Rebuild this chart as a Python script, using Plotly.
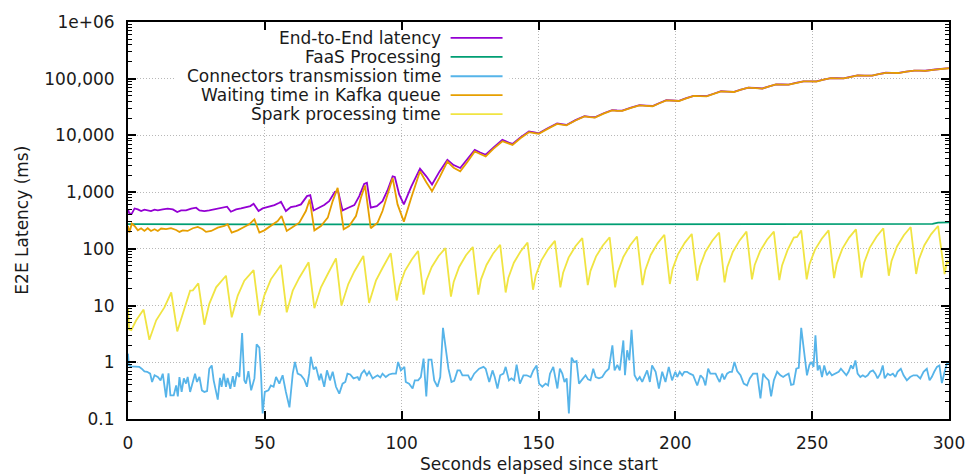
import plotly.graph_objects as go

# ---------------- data ----------------
e2e_x = [0, 0.5, 1.4, 2.4, 3.6, 4.8, 6, 7.2, 8.4, 9.7, 10.9, 12.7, 14.5, 16.4, 18, 19.4, 21.2, 23.1, 24.9, 26.1,
         27.9, 29.7, 31.6, 33.4, 35.2, 36.2, 37.6, 39.5, 41.3, 43.1, 44.7, 45.9, 47.7, 49.2, 51, 53.5, 55.3, 55.9,
         57.7, 59.5, 61.4, 63.2, 65.4, 66.6, 67.8, 69.9, 71.7, 73.5, 75.6, 76.8, 78.4, 80.5, 82.7, 84.5, 86.3, 87.3,
         88.7, 90.9, 93, 94.8, 96.7, 97.5, 99.1, 100.8, 103.5, 106.7, 109, 111.1, 113.8, 116.7, 119, 121.4, 124,
         126.7, 128.7, 130.7, 133.5, 136.8, 138.7, 140.5, 143.5, 146.5, 148.5, 150.1, 153.5, 156.8, 158.5, 160.2,
         163.5, 166.8, 168.7, 170.6, 173.8, 176.9, 178.7, 180.6, 183.8, 186.9, 189.3, 191.7, 194.2, 196.7, 199,
         201.3, 204, 206.7, 209, 211.4, 214, 216.7, 219, 221.4, 224, 226.7, 229.2, 231.8, 234.3, 236.8, 239.1,
         241.4, 244, 246.8, 249.2, 251.5, 254.2, 256.8, 259.2, 261.5, 263.9, 266.6, 269.2, 271.9, 274.3, 276.9,
         279.2, 281.6, 284.4, 287.3, 289.3, 291.3, 295, 299.2, 300]
e2e_y = [497, 417, 417, 516, 497, 464, 490, 476, 464, 490, 476, 497, 511, 497, 446, 476, 476, 511, 531, 476,
         464, 476, 497, 516, 531, 553, 452, 497, 516, 545, 568, 624, 464, 516, 545, 592, 650, 677,
         464, 545, 568, 608, 851, 885, 476, 531, 592, 695, 1014, 1030, 476, 531, 592, 851, 1400, 1460,
         531, 568, 695, 1070, 1900, 1850, 910, 608, 1250, 2590, 1900, 1360, 2300, 3720, 3000, 2670, 3800,
         5570, 5000, 4560, 6100, 8340, 7600, 7100, 9300, 11700, 11300, 10900, 13500, 16300, 15800, 15300,
         18600, 21900, 21300, 20900, 24600, 27900, 27500, 27300, 30900, 34300, 33600, 33000, 37300, 41900, 41300,
         40800, 45300, 50000, 49600, 49300, 54300, 60100, 59300, 58600, 64300, 69700, 68800, 67300, 73300, 79600, 79100,
         78800, 84300, 90000, 89800, 89600, 96300, 102300, 101800, 101300, 107300, 114300, 113800, 113800, 120300, 127300,
         126800, 126300, 133300, 139300, 138800, 138300, 145300, 152300, 153300]

faas_x = [0, 25, 50, 75, 100, 125, 150, 175, 200, 225, 250, 275, 292, 294, 296, 298, 300]
faas_y = [272, 270, 271, 270, 271, 270, 271, 271, 272, 271, 272, 272, 273, 276, 290, 296, 293]

conn_x = [0, 0.3, 1.2, 2, 3, 4.1, 5, 6, 7, 8.1, 8.8, 9.7, 10.9, 11.9, 12.7, 13.9, 14.8, 15.5, 16.7, 17.6, 18.2,
          18.8, 19.6, 20.4, 21.2, 21.8, 22.7, 23.7, 24.5, 25.2, 26.1, 27.0, 27.9, 28.9, 29.7, 30.6, 31.3, 32.8,
          33.6, 34.2, 35.0, 35.8, 36.4, 37.4, 38.3, 38.9, 39.8, 40.7, 41.7, 42.5, 43.1, 44.0, 45.0, 46.2, 47.0,
          48.0, 48.6, 49.2, 50.0, 51.3, 52.2, 53.2, 54.1, 55.3, 56.5, 57.7, 59.0, 60.2, 61.0, 62.0, 63.2, 64.4,
          65.4, 66.2, 66.8, 67.8, 68.7, 69.9, 70.5, 71.7, 72.7, 73.8, 74.8, 76.0, 77.2, 78.4, 79.4, 80.2, 81.2,
          82.4, 83.9, 84.5, 85.3, 86.3, 87.3, 88.1, 89.4, 90.2, 91.2, 92.2, 93.0, 94.2, 95.4, 96.6, 97.9, 98.7,
          99.7, 101.0, 101.5, 102.7, 104.0, 104.8, 106.0, 107.0, 108.0, 109.0, 109.8, 110.9, 111.9, 113.1, 114.1,
          115.1, 116.1, 117.1, 118.2, 119.2, 120.4, 121.3, 122.2, 123.4, 124.3, 125.2, 126.5, 128.3, 129.9, 130.7,
          132.0, 133.2, 134.0, 135.0, 136.0, 137.2, 138.0, 139.2, 140.1, 141.1, 142.0, 143.2, 144.5, 145.7, 147.1,
          148.1, 149.3, 150.2, 151.4, 152.6, 153.5, 154.2, 155.4, 156.9, 157.8, 158.7, 159.5, 160.3, 161.1, 162.1,
          163.0, 163.9, 164.8, 166.0, 167.2, 168.1, 169.0, 170.0, 170.9, 172.1, 173.3, 174.5, 175.7, 177.0, 177.8,
          178.8, 179.7, 181.0, 181.6, 182.4, 183.2, 184.0, 185.1, 186.1, 187.0, 187.9, 188.7, 189.7, 190.7, 191.5,
          192.8, 194.0, 195.2, 196.4, 197.6, 198.8, 200.0, 200.7, 201.6, 202.5, 203.3, 204.3, 205.3, 206.5, 208.0,
          209.2, 210.2, 211.0, 212.0, 212.8, 213.8, 214.7, 215.5, 216.2, 217.1, 217.9, 218.9, 219.9, 220.7, 221.6,
          222.6, 223.8, 225.0, 226.2, 227.2, 228.4, 229.9, 231.1, 232.1, 232.9, 234.1, 235.0, 236.0, 237.2, 238.4,
          239.4, 240.3, 241.4, 242.3, 243.2, 244.2, 245.1, 246.0, 247.1, 248.1, 249.0, 249.7, 250.5, 251.2, 252.0,
          252.7, 253.6, 254.4, 255.4, 256.3, 257.2, 258.5, 259.7, 260.5, 261.5, 262.5, 263.3, 264.2, 264.9, 265.8,
          266.6, 267.6, 268.5, 269.4, 270.3, 271.2, 272.2, 273.1, 273.9, 274.9, 275.8, 276.5, 277.6, 278.5, 279.5,
          280.4, 281.2, 282.4, 283.4, 284.6, 285.8, 287.0, 288.3, 289.5, 290.7, 291.9, 292.9, 293.7, 294.6, 295.6,
          296.5, 297.4, 298.4, 299.2, 300]
conn_y = [1.42, 0.88, 0.85, 0.85, 0.85, 0.83, 0.77, 0.69, 0.68, 0.63, 0.45, 0.59, 0.55, 0.48, 0.63, 0.24, 0.64, 0.26, 0.26, 0.39, 0.25,
          0.55, 0.30, 0.52, 0.42, 0.55, 0.30, 0.48, 0.63, 0.45, 0.55, 0.32, 0.30, 0.31, 0.77, 0.88, 0.48, 0.22,
          0.53, 0.37, 0.63, 0.37, 0.53, 0.34, 0.57, 0.37, 0.66, 0.55, 3.27, 0.48, 0.42, 0.70, 0.32, 0.52, 2.07,
          1.81, 0.63, 0.125, 0.30, 0.32, 0.39, 0.37, 0.55, 0.42, 0.59, 0.30, 0.16, 0.63, 1.01, 0.63, 0.59, 0.50,
          0.37, 0.63, 1.25, 0.75, 0.83, 0.48, 0.63, 0.37, 0.72, 0.48, 0.68, 0.37, 0.28, 0.42, 0.45, 0.63, 0.61,
          0.52, 0.55, 0.48, 0.63, 0.72, 0.59, 0.68, 0.52, 0.55, 0.59, 0.54, 0.63, 0.55, 0.61, 0.63, 0.63, 1.01,
          0.72, 0.83, 0.45, 0.42, 0.345, 0.48, 0.48, 0.55, 1.16, 0.25, 1.11, 1.11, 0.48, 0.37, 0.55,
          4.06, 1.86, 0.77, 0.45, 0.47, 0.72, 0.72, 0.59, 0.59, 0.59, 0.48, 0.63, 0.77, 0.83, 0.77,
          0.45, 0.72, 0.55, 0.345, 0.59, 0.63, 0.83, 0.48, 0.52, 0.48, 0.91, 0.42, 0.59, 0.59, 0.55,
          0.72, 0.88, 0.42, 0.37, 0.42, 0.39, 0.63, 0.83, 0.345, 0.77, 0.63, 0.45, 0.52, 0.125, 1.21,
          1.01, 1.05, 0.42, 0.50, 0.59, 0.50, 0.48, 0.77, 0.55, 0.52, 0.55, 0.68, 0.77, 1.99, 0.72,
          0.90, 0.72, 2.43, 0.59, 1.63, 1.08, 3.74, 0.59, 0.48, 0.55, 0.45, 0.55, 0.72, 0.45, 0.88,
          0.68, 0.345, 0.68, 0.45, 0.83, 0.48, 0.68, 0.55, 0.68, 0.59, 0.68, 0.68, 0.63, 0.59, 0.39,
          0.59, 0.52, 0.39, 0.77, 0.63, 0.63, 0.63, 0.52, 0.45, 0.63, 0.50, 0.63, 0.68, 0.68, 1.01,
          0.70, 0.59, 0.42, 0.39, 0.52, 0.63, 0.63, 0.23, 0.63, 0.55, 0.48, 0.25, 0.48, 0.68, 0.59,
          0.55, 0.59, 0.63, 0.40, 0.41, 0.77, 0.80, 4.06, 1.63, 0.59, 0.90, 1.01, 0.83, 2.98, 0.72,
          0.88, 0.55, 0.88, 0.59, 0.68, 0.59, 0.63, 0.68, 0.77, 0.68, 0.59, 0.68, 0.88, 0.77, 1.08,
          0.63, 0.55, 0.59, 0.55, 0.59, 0.68, 0.72, 0.63, 0.52, 0.63, 0.88, 0.52, 0.63, 0.59, 0.63,
          0.55, 0.68, 0.77, 0.59, 0.48, 0.55, 0.59, 0.59, 0.52, 0.68, 0.77, 0.48, 0.55, 0.68, 0.83,
          0.88, 0.43, 0.68, 0.95, 0.95]

kafka_x = [0, 0.5, 1.4, 2.4, 3.6, 4.8, 6, 7.2, 8.4, 9.7, 10.9, 12.1, 13.9, 15.7, 17.6, 18.8, 20, 21.8, 23.7, 25.5,
           27.3, 28.5, 30.4, 32.8, 35.2, 36.4, 37.9, 40.1, 41.9, 44.3, 46.2, 48, 49.8, 52.2, 54.7, 56.1, 58, 60.2,
           62.6, 65, 66.4, 68.1, 70.5, 73, 74.8, 76.6, 78.8, 80.8, 83.3, 85.1, 86.6, 88.7, 91.2, 93, 94.8, 96.7,
           98.5, 100.8, 103.5, 106.7, 109, 111.1, 113.8, 116.7, 119, 121.4, 124, 126.7, 128.7, 130.7, 133.5, 136.8,
           138.7, 140.5, 143.5, 146.5, 148.5, 150.1, 153.5, 156.8, 158.5, 160.2, 163.5, 166.8, 168.7, 170.6, 173.8,
           176.9, 178.7, 180.6, 183.8, 186.9, 189.3, 191.7, 194.2, 196.7, 199, 201.3, 204, 206.7, 209, 211.4, 214,
           216.7, 219, 221.4, 224, 226.7, 229.2, 231.8, 234.3, 236.8, 239.1, 241.4, 244, 246.8, 249.2, 251.5, 254.2,
           256.8, 259.2, 261.5, 263.9, 266.6, 269.2, 271.9, 274.3, 276.9, 279.2, 281.6, 284.4, 287.3, 289.3, 291.3,
           295, 299.2, 300]
kafka_y = [253, 194, 278, 253, 212, 231, 207, 231, 207, 222, 207, 228, 222, 231, 215, 199, 212, 207, 231, 243,
           222, 199, 207, 236, 253, 271, 194, 212, 236, 271, 331, 194, 212, 253, 310, 379, 207, 243,
           290, 464, 743, 212, 253, 355, 695, 1190, 222, 253, 379, 795, 1310, 231, 290, 464, 910, 1780,
           608, 302, 800, 2330, 1500, 1040, 1800, 3470, 2700, 2330, 3400, 5210, 4700, 4270, 5800, 7900,
           7300, 6800, 9000, 11400, 11000, 10700, 13200, 16000, 15500, 15100, 18300, 21600, 21000, 20600, 24300,
           27600, 27200, 27000, 30600, 34000, 33300, 32700, 37000, 41600, 41000, 40500, 45000, 49700, 49300, 49000, 54000,
           59800, 59000, 58300, 64000, 69400, 68500, 67000, 73000, 79300, 78800, 78500, 84000, 89700, 89500, 89300, 96000,
           102000, 101500, 101000, 107000, 114000, 113500, 113500, 120000, 127000, 126500, 126000, 133000, 139000, 138500, 138000,
           145000, 152000, 153000]

spark_x = [0, 0.4, 1.2, 3, 5.7, 7.8, 10.3, 13.3, 15.8, 18, 20.6, 22.7, 23.7, 25.7, 27.9, 29.7, 32.2, 35.8, 37.9,
           40.1, 42.5, 45.9, 48, 49.8, 52.2, 55.9, 58, 60.2, 62.6, 66, 68.1, 70.5, 73, 76, 78, 80.5, 82.7, 86,
           88.1, 90.6, 93, 96, 98.2, 99.2, 101.2, 103.7, 106, 108, 109, 111, 113.5, 116, 118, 119, 121, 123.5, 126,
           128, 129, 131, 133.5, 136, 138, 139, 141, 143.5, 146, 148, 149, 151, 153.5, 156, 158, 159, 161, 163.5,
           166, 168, 169, 171, 173.5, 176, 178, 179, 181, 183.5, 186, 188, 189, 191, 193.5, 196, 198, 199, 201,
           203.5, 206, 208, 209, 211, 213.5, 216, 218, 219, 221, 223.5, 226, 228, 229, 231, 233.5, 236, 238, 239,
           241, 243.3, 244.5, 246, 248, 249, 251, 253.5, 256, 258, 259, 261, 263.5, 266, 268, 269, 271, 273.5, 276,
           278, 279, 281, 283.5, 286, 288, 289, 291, 293.5, 296, 298.4, 299.3, 300]
spark_y = [9, 3.8, 3.7, 5.5, 8.5, 2.5, 5.5, 9.3, 17, 3.5, 8.8, 18.3, 18.5, 24.7, 4.6, 10.7, 21, 33.6, 6.2,
           15, 27.5, 42, 6.7, 15, 29, 52, 7.6, 18.3, 31, 58, 9, 21, 36, 68, 10, 24, 40, 75,
           11.1, 27.5, 46, 84, 12.3, 22, 41, 65, 92, 15.6, 27.5, 48, 75, 103, 14.4, 26, 48, 77, 108,
           15.6, 29, 52, 84, 118, 17, 31, 57, 91, 129, 19, 34, 62, 98, 138, 21, 38, 70, 111,
           155, 23, 41, 73, 115, 160, 21, 39, 72, 116, 165, 23, 42, 78, 125, 177, 24, 44, 81,
           129, 183, 27.5, 49, 89, 139, 194, 25.6, 48, 88, 141, 201, 29, 52, 92, 145, 201, 28, 51,
           95, 158, 162, 212, 29, 53, 96, 151, 212, 30.5, 55, 100, 158, 221, 31, 57, 104, 164, 231,
           33.6, 61, 110, 174, 243, 36, 65, 116, 182, 253, 36, 62, 55]

legend_names = ["End-to-End latency", "FaaS Processing", "Connectors transmission time",
                "Waiting time in Kafka queue", "Spark processing time"]
colors = ["#9400D3", "#009E73", "#56B4E9", "#E69F00", "#F0E442"]

y_tickvals = [0.1, 1, 10, 100, 1000, 10000, 100000, 1000000]
y_ticktext = ["0.1", "1", "10", "100", "1,000", "10,000", "100,000", "1e+06"]
x_tickvals = [0, 50, 100, 150, 200, 250, 300]

FONT = "DejaVu Sans"
FS = 17
TXT = "#1a1a1a"
GRID = "#b8b8b8"

series = [(e2e_x, e2e_y), (faas_x, faas_y), (conn_x, conn_y), (kafka_x, kafka_y), (spark_x, spark_y)]

fig = go.Figure()
for (xs, ys), name, c in zip(series, legend_names, colors):
    fig.add_trace(go.Scatter(x=xs, y=ys, mode="lines", name=name,
                             line=dict(color=c, width=1.8), showlegend=False))

# plot area in pixels: x 128..950, y 20..419
L, R, T, B = 128, 27, 20, 56
W, H = 977, 475
pw, ph = W - L - R, H - T - B

def px_to_paper_x(px):
    return (px - L) / pw

def py_to_paper_y(py):
    return (H - B - py) / ph

shapes = []
annotations = []
# opaque key box (hides the grid behind the key, as in the reference)
shapes.append(dict(type="rect", xref="paper", yref="paper",
                   x0=px_to_paper_x(176), x1=px_to_paper_x(510),
                   y0=py_to_paper_y(122), y1=py_to_paper_y(29),
                   fillcolor="white", line=dict(width=0), layer="above"))
rows = [36, 55, 74.5, 93.5, 112.5]
for name, c, py in zip(legend_names, colors, rows):
    annotations.append(dict(text=name, xref="paper", yref="paper",
                            x=px_to_paper_x(443), y=py_to_paper_y(py),
                            xanchor="right", yanchor="middle", showarrow=False,
                            font=dict(family=FONT, size=FS, color=TXT)))
    shapes.append(dict(type="line", xref="paper", yref="paper",
                       x0=px_to_paper_x(451), x1=px_to_paper_x(503),
                       y0=py_to_paper_y(py), y1=py_to_paper_y(py),
                       line=dict(color=c, width=1.8), layer="above"))

annotations.append(dict(text="Seconds elapsed since start", xref="paper", yref="paper",
                        x=0.5, y=py_to_paper_y(464), xanchor="center", yanchor="middle",
                        showarrow=False, font=dict(family=FONT, size=FS, color=TXT)))
annotations.append(dict(text="E2E Latency (ms)", xref="paper", yref="paper",
                        x=px_to_paper_x(21), y=0.5, xanchor="center", yanchor="middle",
                        textangle=-90, showarrow=False,
                        font=dict(family=FONT, size=FS, color=TXT)))

fig.update_layout(
    width=W, height=H,
    margin=dict(l=L, r=R, t=T, b=B, pad=0),
    paper_bgcolor="white", plot_bgcolor="white",
    font=dict(family=FONT, size=FS, color=TXT),
    shapes=shapes, annotations=annotations,
    showlegend=False,
)
fig.update_xaxes(range=[0, 300], tickmode="array", tickvals=x_tickvals,
                 showline=True, linecolor="black", linewidth=2, mirror="ticks",
                 ticks="inside", ticklen=8, tickwidth=1.5, tickcolor="black",
                 showgrid=True, gridcolor=GRID, griddash="1px,2px", gridwidth=1,
                 zeroline=False, ticklabelstandoff=8)
fig.update_yaxes(type="log", range=[-1, 6], tickmode="array", tickvals=y_tickvals, ticktext=y_ticktext,
                 showline=True, linecolor="black", linewidth=2, mirror="ticks",
                 ticks="inside", ticklen=8, tickwidth=1.5, tickcolor="black",
                 minor=dict(ticks="inside", ticklen=4, tickwidth=1, tickcolor="black", dtick="D1", showgrid=False),
                 showgrid=True, gridcolor=GRID, griddash="1px,2px", gridwidth=1,
                 zeroline=False, ticklabelstandoff=8)

fig.write_html("out.html")
